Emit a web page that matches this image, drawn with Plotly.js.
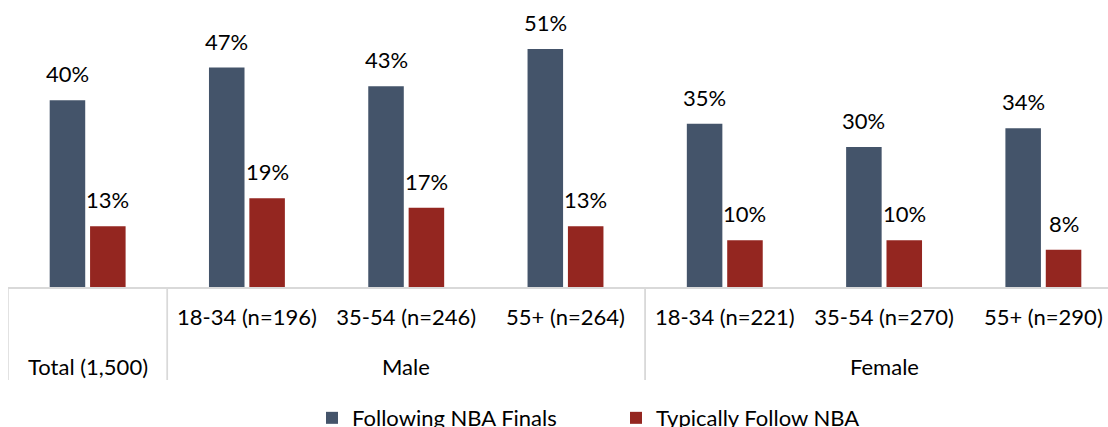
<!DOCTYPE html>
<html>
<head>
<meta charset="utf-8">
<script src="https://cdn.plot.ly/plotly-3.0.1.min.js"></script>
<style>html,body{margin:0;padding:0;overflow:hidden;background:#fff}#chart{width:1125px;height:427px}</style>
</head>
<body>
<div id="chart"></div>
<script>
const groups = ["Total (1,500)", "Male", "Male", "Male", "Female", "Female", "Female"];
const subgroups = ["", "18-34 (n=196)", "35-54 (n=246)", "55+ (n=264)", "18-34 (n=221)", "35-54 (n=270)", "55+ (n=290)"];
const followingFinals = [40, 47, 43, 51, 35, 30, 34];
const typicallyFollow = [13, 19, 17, 13, 10, 10, 8];
const seriesNames = ["Following NBA Finals", "Typically Follow NBA"];
const colors = ["#44546A", "#942620"];

const FONT = "Lato, 'Liberation Sans', sans-serif";
const idx = subgroups.map((_, i) => i);

const traces = [followingFinals, typicallyFollow].map((vals, k) => ({
  type: "bar",
  name: seriesNames[k],
  x: idx,
  y: vals,
  marker: {color: colors[k]},
  hoverinfo: "skip"
}));

// value labels above bars
const offsets = [-0.1267, 0.1267];
const annotations = [];
[followingFinals, typicallyFollow].forEach((vals, k) => {
  vals.forEach((v, i) => {
    annotations.push({
      xref: "x", yref: "y", x: i + offsets[k], y: v,
      text: v + "%", showarrow: false, yanchor: "bottom", yshift: 11,
      font: {family: FONT, size: 22, color: "#000"}
    });
  });
});

// group labels (second row) and dividers between groups
const shapes = [];
const groupNames = [...new Set(groups)];
groupNames.forEach(g => {
  const members = idx.filter(i => groups[i] === g);
  const first = members[0], last = members[members.length - 1];
  annotations.push({
    xref: "x", yref: "paper", x: (first + last) / 2, y: 0,
    text: g, showarrow: false, yanchor: "middle", yshift: -79,
    font: {family: FONT, size: 22, color: "#000"}
  });
  [first - 0.5, last + 0.5].forEach(b => {
    shapes.push({
      type: "line", xref: "x", yref: "paper", ysizemode: "pixel", yanchor: 0,
      x0: b, x1: b, y0: 0, y1: -93,
      line: {color: "#d9d9d9", width: 1.5}
    });
  });
});

const layout = {
  width: 1125, height: 427,
  margin: {l: 8, r: 2, t: 6, b: 140},
  paper_bgcolor: "#fff", plot_bgcolor: "#fff",
  bargap: 0.493, bargroupgap: 0.12, barmode: "group",
  font: {family: FONT, size: 22, color: "#000"},
  xaxis: {
    type: "linear", range: [-0.5, 6.5],
    tickmode: "array", tickvals: idx, ticktext: subgroups,
    showline: true, linecolor: "#d9d9d9", linewidth: 1.5,
    ticks: "outside", ticklen: 10, tickcolor: "rgba(0,0,0,0)",
    tickfont: {family: FONT, size: 22, color: "#000"},
    showgrid: false, zeroline: false, fixedrange: true
  },
  yaxis: {range: [0, 60.2], visible: false, showgrid: false, zeroline: false},
  showlegend: true,
  legend: {
    orientation: "h", xref: "container", yref: "container",
    x: 312/1125, y: 0.021, xanchor: "left", yanchor: "middle",
    entrywidth: 259, entrywidthmode: "pixels",
    font: {family: FONT, size: 22, color: "#000"}
  },
  annotations: annotations,
  shapes: shapes
};

Plotly.newPlot("chart", traces, layout, {displayModeBar: false, staticPlot: true});
</script>
</body>
</html>
